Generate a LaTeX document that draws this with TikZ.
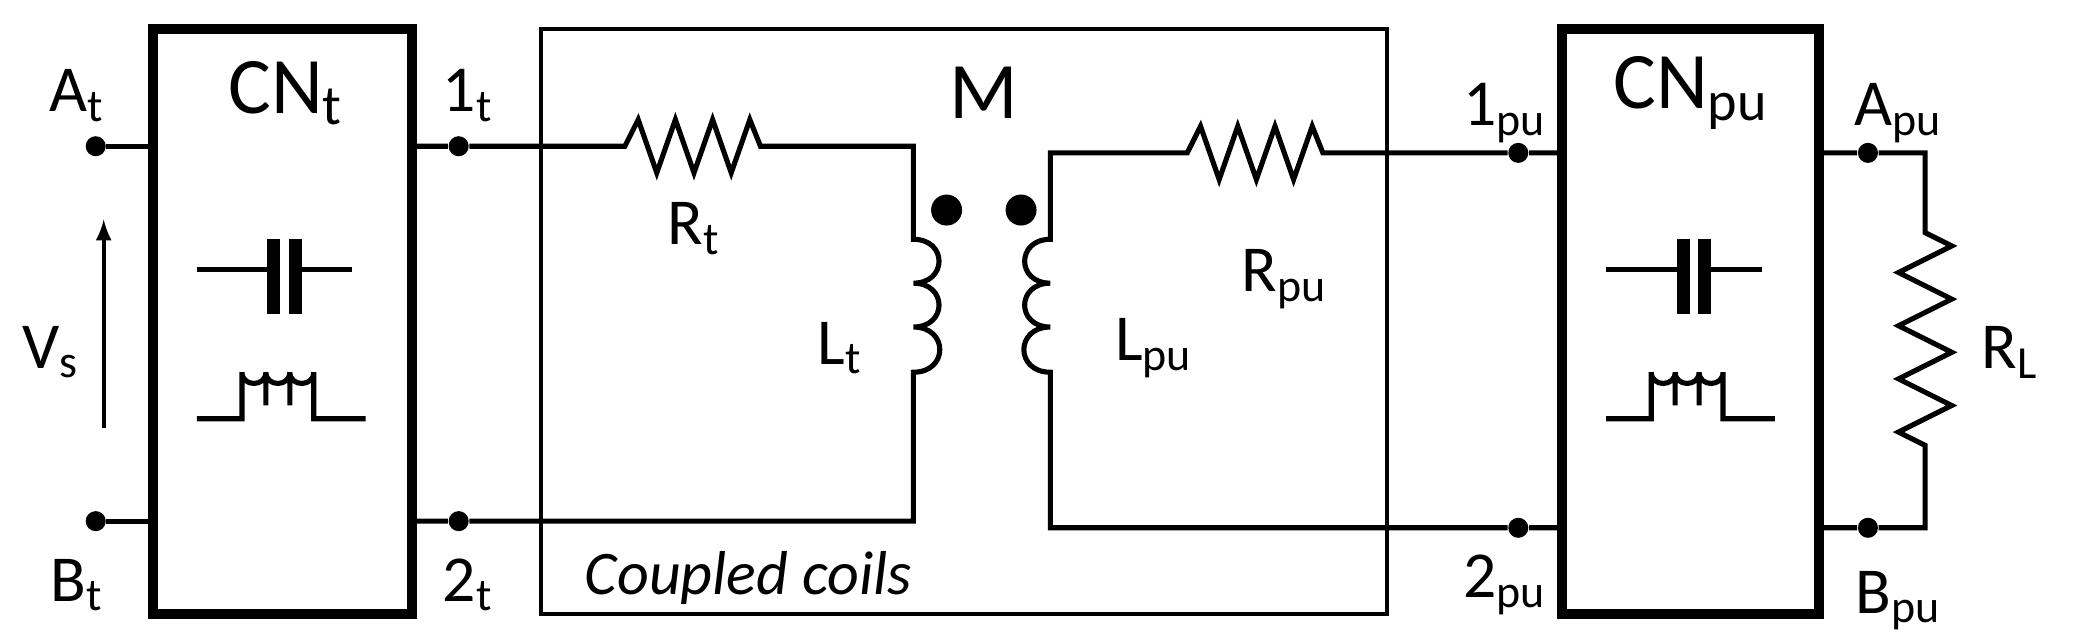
\documentclass[tikz,border=0pt]{standalone}
\usepackage{fontspec}
\setmainfont{Carlito}
\usetikzlibrary{positioning}
\tikzset{
  thickbox/.style={draw, line width=2.6pt},
  thinbox/.style={draw, line width=1pt},
  wire/.style={line width=1.4pt},
  term/.style={circle, fill, inner sep=0pt, minimum size=5.5pt},
  lbl/.style={font=\fontsize{18}{20}\selectfont, inner sep=1pt},
}
\begin{document}
\begin{tikzpicture}[x=0.01282cm, y=-0.01282cm]
\useasboundingbox (0,0) rectangle (1560,483);

% Boxes
\draw[thickbox] (115,22) rectangle (310,462);
\draw[thinbox] (407,22) rectangle (1043,462);
\draw[thickbox] (1175,22) rectangle (1368,462);

% Terminals
\node[term] (At) at (72,110) {};
\node[term] (Bt) at (72,392) {};
\node[term] (1t) at (345,110) {};
\node[term] (2t) at (345,392) {};
\node[term] (1pu) at (1142,115) {};
\node[term] (2pu) at (1142,397) {};
\node[term] (Apu) at (1405,115) {};
\node[term] (Bpu) at (1405,397) {};

% Labels
\node[lbl] at (58,72) {A\textsubscript{t}};
\node[lbl] at (58,440) {B\textsubscript{t}};
\node[lbl] at (352,72) {1\textsubscript{t}};
\node[lbl] at (352,440) {2\textsubscript{t}};
\node[lbl] at (1132,85) {1\textsubscript{pu}};
\node[lbl] at (1132,440) {2\textsubscript{pu}};
\node[lbl] at (1428,85) {A\textsubscript{pu}};
\node[lbl] at (1428,452) {B\textsubscript{pu}};
\node[lbl, font=\fontsize{22}{24}\selectfont] at (215,70) {CN\textsubscript{t}};
\node[lbl, font=\fontsize{22}{24}\selectfont] at (1272,70) {CN\textsubscript{pu}};
\node[lbl] at (38,265) {V\textsubscript{s}};
\node[lbl] at (522,172) {R\textsubscript{t}};
\node[lbl] at (632,262) {L\textsubscript{t}};
\node[lbl] at (868,262) {L\textsubscript{pu}};
\node[lbl] at (966,210) {R\textsubscript{pu}};
\node[lbl, font=\fontsize{22}{24}\selectfont] at (740,70) {M};
\node[lbl] at (1512,265) {R\textsubscript{L}};
\node[lbl, font=\fontsize{17}{20}\selectfont\itshape] at (563,435) {Coupled coils};

% Source arrow
\coordinate (vsa) at (78,322);
\coordinate (vsb) at (78,165);
\draw[line width=1pt, -latex] (vsa) -- (vsb);

% Left terminals into box
\draw[wire] (At) -- (115,110);
\draw[wire] (Bt) -- (115,392);

% Components inside CN boxes
\foreach \xo in {0,1060} {
  \draw[wire] (148+\xo,203) -- (205+\xo,203);
  \draw[line width=3.5pt] (206+\xo,180) -- (206+\xo,236);
  \draw[line width=3.5pt] (222+\xo,180) -- (222+\xo,236);
  \draw[wire] (222+\xo,203) -- (265+\xo,203);
  \draw[wire] (148+\xo,315) -- (182+\xo,315) -- (182+\xo,280)
    to[out=-90, in=-90, looseness=1.6] (200+\xo,280) -- (200+\xo,305)
    -- (200+\xo,280)
    to[out=-90, in=-90, looseness=1.6] (218+\xo,280) -- (218+\xo,305)
    -- (218+\xo,280)
    to[out=-90, in=-90, looseness=1.6] (236+\xo,280) -- (236+\xo,315)
    -- (275+\xo,315);
}

% Primary side
\draw[wire] (310,110) -- (1t) -- (470,110)
  -- (480,90) -- (494,130) -- (508,90) -- (522,130) -- (536,90) -- (550,130) -- (564,90) -- (572,110)
  -- (687,110) -- (687,180)
  to[out=0, in=0, looseness=2] (687,213)
  to[out=0, in=0, looseness=2] (687,246)
  to[out=0, in=0, looseness=2] (687,280)
  -- (687,392) -- (2t) -- (310,392);

% Secondary side
\draw[wire] (1175,115) -- (1pu) -- (995,115)
  -- (987,95) -- (973,135) -- (959,95) -- (945,135) -- (931,95) -- (917,135) -- (903,95) -- (893,115)
  -- (790,115) -- (790,180)
  to[out=180, in=180, looseness=2] (790,213)
  to[out=180, in=180, looseness=2] (790,246)
  to[out=180, in=180, looseness=2] (790,280)
  -- (790,397) -- (2pu) -- (1175,397);

% Dot marks
\node[circle, fill, inner sep=0pt, minimum size=8.5pt] (dotl) at (712,158) {};
\node[circle, fill, inner sep=0pt, minimum size=8.5pt] (dotr) at (768,158) {};

% Load
\draw[wire] (1368,115) -- (Apu) -- (1448,115) -- (1448,175)
  -- (1468,185) -- (1428,205) -- (1468,225) -- (1428,245) -- (1468,265) -- (1428,285) -- (1468,305) -- (1428,325) -- (1448,335)
  -- (1448,397) -- (Bpu) -- (1368,397);
\end{tikzpicture}
\end{document}
